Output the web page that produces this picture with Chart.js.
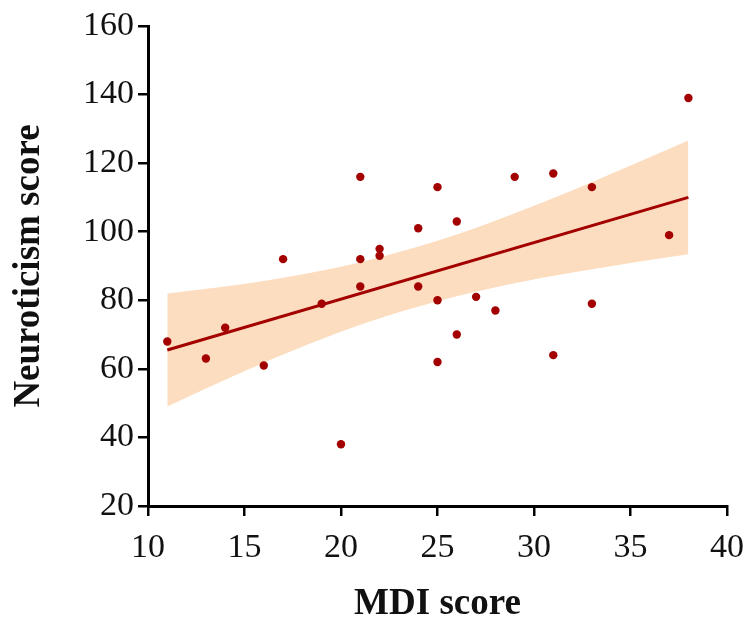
<!DOCTYPE html>
<html>
<head>
<meta charset="utf-8">
<script src="https://cdn.jsdelivr.net/npm/chart.js@4.4.1/dist/chart.umd.min.js"></script>
<style>
  html, body { margin: 0; padding: 0; background: #ffffff; }
  #wrap { position: relative; width: 744px; height: 627px; }
</style>
</head>
<body>
<div id="wrap"><canvas id="c" width="744" height="627"></canvas></div>
<script>
// Observed data points (MDI score, Neuroticism score)
const mdiScores = [11, 13, 14, 16, 17, 19, 20, 21, 21, 21, 22, 22, 24, 24, 25, 25, 25, 26, 26, 27, 28, 29, 31, 31, 33, 33, 37, 38];
const neuroScores = [68, 63, 72, 61, 92, 79, 38, 116, 92, 84, 95, 93, 101, 84, 113, 80, 62, 103, 70, 81, 77, 116, 117, 64, 113, 79, 99, 139];

// Fitted regression line
const fitX = [11, 38];
const fitY = [65.5, 110];

// Confidence band
const bandX = [11, 14, 17, 20, 23, 26, 29, 32, 35, 38];
const bandUpper = [82, 84, 86.6, 89.8, 94.1, 99.2, 105.4, 112.1, 119.3, 126.6];
const bandLower = [49, 56.8, 64.2, 70.8, 76.5, 81.2, 85, 88.1, 90.9, 93.4];

// Axis ticks
const xTicks = [10, 15, 20, 25, 30, 35, 40];
const yTicks = [20, 40, 60, 80, 100, 120, 140, 160];

const toPts = (xs, ys) => xs.map((x, i) => ({ x: x, y: ys[i] }));

const DARK_RED = '#A30000';
const BAND = '#FCDDBF';
const SERIF = '"Liberation Serif", "Times New Roman", serif';

new Chart(document.getElementById('c'), {
  type: 'scatter',
  data: {
    datasets: [
      {
        label: 'Data',
        data: toPts(mdiScores, neuroScores),
        backgroundColor: DARK_RED,
        borderColor: DARK_RED,
        pointRadius: 4.2,
        pointHoverRadius: 4.2,
        borderWidth: 0
      },
      {
        label: 'Fit',
        type: 'line',
        data: toPts(fitX, fitY),
        borderColor: DARK_RED,
        borderWidth: 3,
        pointRadius: 0,
        fill: false
      },
      {
        label: 'Upper',
        type: 'line',
        data: toPts(bandX, bandUpper),
        borderColor: 'rgba(0,0,0,0)',
        borderWidth: 0,
        backgroundColor: BAND,
        pointRadius: 0,
        cubicInterpolationMode: 'monotone',
        fill: '+1'
      },
      {
        label: 'Lower',
        type: 'line',
        data: toPts(bandX, bandLower),
        borderColor: 'rgba(0,0,0,0)',
        borderWidth: 0,
        pointRadius: 0,
        cubicInterpolationMode: 'monotone',
        fill: false
      }
    ]
  },
  options: {
    responsive: false,
    animation: false,
    layout: { padding: { top: 26, right: 17, left: 0, bottom: 0 } },
    plugins: {
      legend: { display: false },
      tooltip: { enabled: false }
    },
    scales: {
      x: {
        type: 'linear',
        min: 10, max: 40,
        afterBuildTicks: (s) => { s.ticks = xTicks.map(v => ({ value: v })); },
        afterFit: (s) => { s.height = 121; s.paddingRight = 17; s.paddingLeft = 0; },
        border: { display: true, color: '#000', width: 3 },
        grid: { display: true, drawOnChartArea: false, drawTicks: true, tickLength: 10, color: '#000', lineWidth: 2.5 },
        ticks: {
          color: '#111',
          padding: 12,
          font: { family: SERIF, size: 34 }
        },
        title: {
          display: true,
          text: 'MDI score',
          color: '#111',
          padding: { top: 16, bottom: 0 },
          font: { family: SERIF, size: 37, weight: 'bold' }
        }
      },
      y: {
        type: 'linear',
        min: 20, max: 160,
        afterBuildTicks: (s) => { s.ticks = yTicks.map(v => ({ value: v })); },
        afterFit: (s) => { s.width = 148; },
        border: { display: true, color: '#000', width: 3 },
        grid: { display: true, drawOnChartArea: false, drawTicks: true, tickLength: 10, color: '#000', lineWidth: 2.5 },
        ticks: {
          color: '#111',
          padding: 4,
          font: { family: SERIF, size: 34 }
        },
        title: {
          display: true,
          text: 'Neuroticism score',
          color: '#111',
          padding: { top: 7, bottom: 0 },
          font: { family: SERIF, size: 37, weight: 'bold' }
        }
      }
    }
  }
});
</script>
</body>
</html>
